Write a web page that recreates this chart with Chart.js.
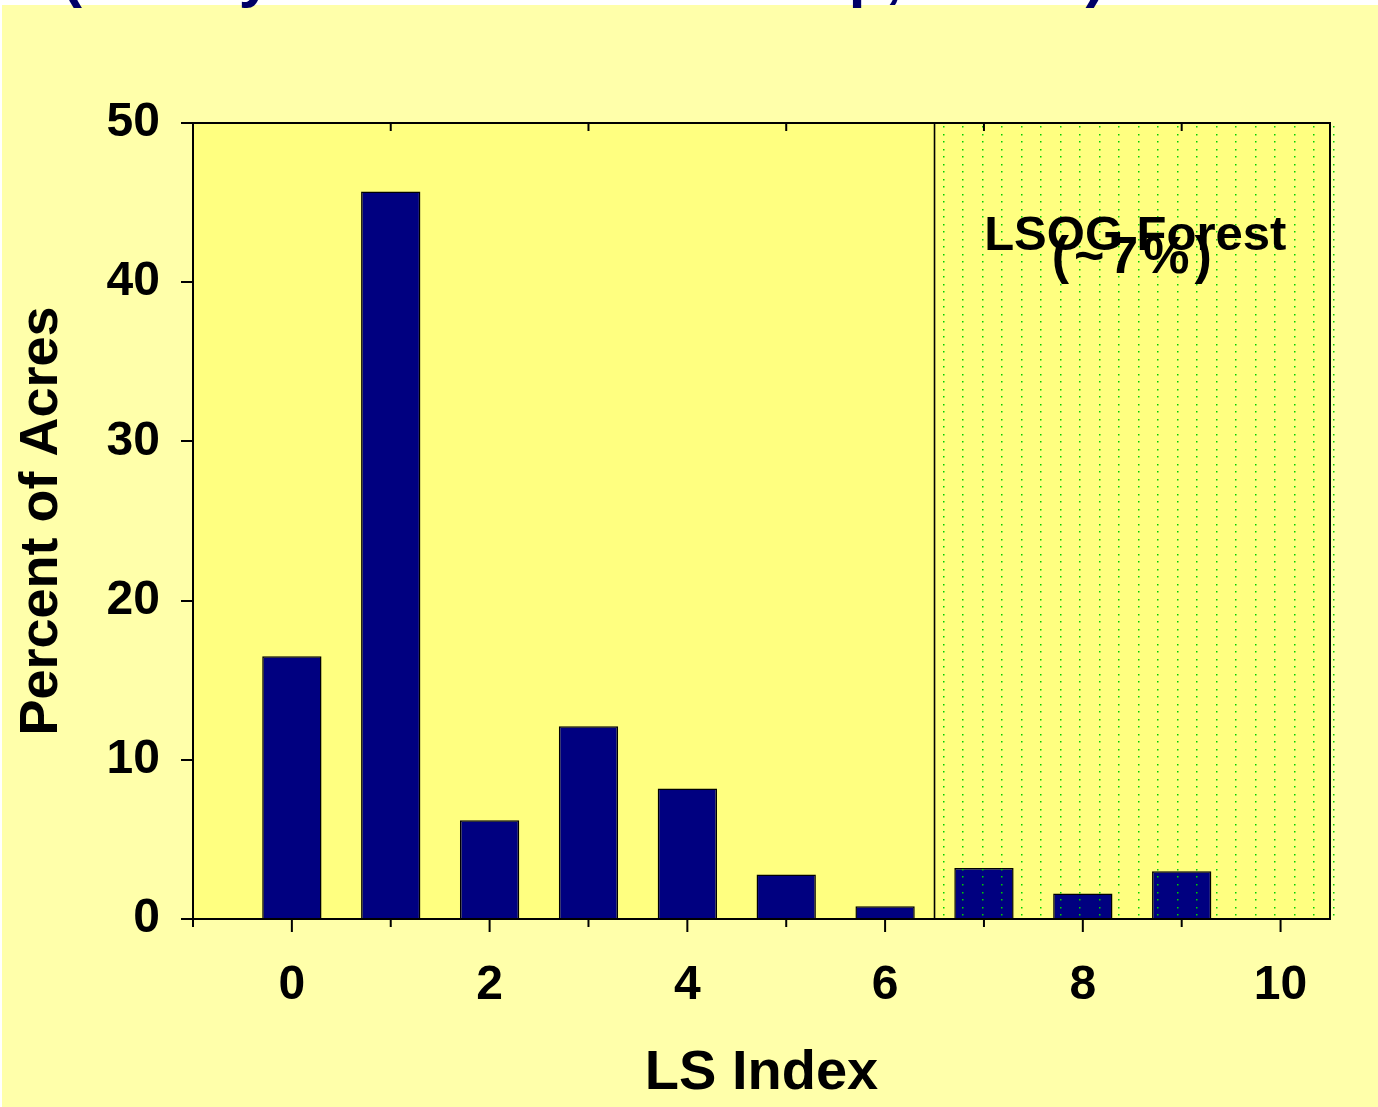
<!DOCTYPE html>
<html><head><meta charset="utf-8">
<script src="https://cdn.jsdelivr.net/npm/chart.js@4/dist/chart.umd.min.js"></script>
<style>
html,body{margin:0;padding:0;background:#fff;overflow:hidden}
#wrap{position:relative;width:1378px;height:1107px}
</style></head>
<body><div id="wrap"><canvas id="c" width="1378" height="1107"></canvas></div>
<script>
// ---- data ----
const lsIndex = [0, 1, 2, 3, 4, 5, 6, 7, 8, 9];
const percentOfAcres = [16.5, 45.7, 6.2, 12.1, 8.2, 2.8, 0.8, 3.2, 1.6, 3.0];
const xTickLabels = ['0', '2', '4', '6', '8', '10'];
const xMin = -1, xMax = 10.5;
const yMin = 0, yMax = 50, yStep = 10;
const regionStart = 6.5, regionEnd = 10.5;
const regionLabelLines = ['LSOG Forest', '(~7%)'];
const regionLabelX = 8.5;
const regionLabelY = [42.0, 40.6];
const titleText = '(Mostly Industrial Ownership, 1990s)';
const xAxisTitle = 'LS Index';
const yAxisTitle = 'Percent of Acres';

const FONT = "'Liberation Sans', Arial, sans-serif";

const bgPlugin = {
  id: 'bg',
  beforeDraw(chart) {
    const {ctx, chartArea: a} = chart;
    ctx.save();
    ctx.fillStyle = '#ffffff';
    ctx.fillRect(0, 0, chart.width, chart.height);
    ctx.fillStyle = '#FFFFAA';
    ctx.fillRect(2, 5, chart.width - 2, chart.height - 5);
    ctx.fillStyle = '#FFFF80';
    ctx.fillRect(a.left, a.top, a.right - a.left, a.bottom - a.top);
    ctx.restore();
  },
  afterDatasetsDraw(chart) {
    const {ctx, chartArea: a, scales: {x, y}} = chart;
    ctx.save();
    // dotted pattern in LSOG region
    const rx0 = x.getPixelForValue(regionStart);
    const rx1 = x.getPixelForValue(regionEnd);
    ctx.fillStyle = '#00D000';
    for (let px = rx0 + 8; px <= rx1 + 4; px += 19.5) {
      for (let py = a.top + 3; py <= a.bottom - 3; py += 7.505) {
        ctx.fillRect(Math.round(px), Math.round(py), 1.5, 1.5);
      }
    }
    // region divider
    ctx.strokeStyle = '#000';
    ctx.lineWidth = 1.6;
    ctx.beginPath();
    ctx.moveTo(rx0, a.top); ctx.lineTo(rx0, a.bottom);
    ctx.stroke();
    // plot frame
    ctx.lineWidth = 2;
    ctx.beginPath();
    ctx.moveTo(a.left - 12, a.top); ctx.lineTo(a.right, a.top); ctx.lineTo(a.right, a.bottom);
    ctx.stroke();
    // x ticks: long at even, short at odd (bottom); top ticks at odd inward
    for (let v = Math.ceil(xMin); v <= xMax; v++) {
      const px = x.getPixelForValue(v);
      const even = v % 2 === 0;
      ctx.beginPath();
      ctx.moveTo(px, a.bottom); ctx.lineTo(px, a.bottom + (even ? 13 : 8));
      ctx.stroke();
      if (!even) {
        ctx.beginPath();
        ctx.moveTo(px, a.top); ctx.lineTo(px, a.top + 8);
        ctx.stroke();
      }
    }
    // region label
    ctx.fillStyle = '#000';
    ctx.textAlign = 'center';
    ctx.textBaseline = 'alphabetic';
    ctx.font = "bold 49px " + FONT;
    ctx.fillText(regionLabelLines[0], x.getPixelForValue(regionLabelX) + 3, y.getPixelForValue(regionLabelY[0]));
    ctx.font = "bold 52px " + FONT;
    try { ctx.letterSpacing = '5px'; } catch (e) {}
    ctx.fillText(regionLabelLines[1], x.getPixelForValue(regionLabelX) + 2, y.getPixelForValue(regionLabelY[1]));
    try { ctx.letterSpacing = '0px'; } catch (e) {}
    ctx.restore();
  },
  afterDraw(chart) {
    const {ctx} = chart;
    ctx.save();
    ctx.fillStyle = '#000066';
    ctx.font = "bold 60px " + FONT;
    ctx.textAlign = 'left';
    ctx.textBaseline = 'alphabetic';
    ctx.fillText(titleText, 62, -4);
    ctx.restore();
  }
};

new Chart(document.getElementById('c'), {
  type: 'bar',
  data: {
    datasets: [{
      data: lsIndex.map((v, i) => ({x: v, y: percentOfAcres[i]})),
      backgroundColor: '#000080',
      borderColor: '#000000',
      borderWidth: 1.5,
      categoryPercentage: 0.6,
      barPercentage: 1.0
    }]
  },
  options: {
    responsive: false,
    animation: false,
    devicePixelRatio: 1,
    layout: {padding: {top: 123, right: 48, left: 0, bottom: 0}},
    plugins: {legend: {display: false}, tooltip: {enabled: false}},
    scales: {
      x: {
        type: 'linear',
        offset: false,
        min: xMin, max: xMax,
        afterFit(s) { s.height = 188; },
        border: {display: true, color: '#000', width: 2},
        grid: {drawOnChartArea: false, drawTicks: true, tickLength: 12, color: 'rgba(0,0,0,0)'},
        ticks: {
          stepSize: 1, includeBounds: false, autoSkip: false, maxRotation: 0, padding: 26,
          color: '#000', font: {family: FONT, size: 48, weight: 'bold'},
          callback: (v) => xTickLabels.includes(String(v)) ? String(v) : ''
        },
        title: {display: true, text: xAxisTitle, color: '#000',
          font: {family: FONT, size: 56, weight: 'bold'}, padding: {top: 0, bottom: 0}}
      },
      y: {
        min: yMin, max: yMax,
        afterFit(s) { s.width = 193; },
        border: {display: true, color: '#000', width: 2},
        grid: {drawOnChartArea: false, drawTicks: true, tickLength: 12, color: '#000', lineWidth: 2},
        ticks: {stepSize: yStep, padding: 21, color: '#000',
          font: {family: FONT, size: 48, weight: 'bold'}},
        title: {display: true, text: yAxisTitle, color: '#000',
          font: {family: FONT, size: 54, weight: 'bold'}, padding: {top: 10, bottom: 0}}
      }
    }
  },
  plugins: [bgPlugin]
});
</script>
</body></html>
